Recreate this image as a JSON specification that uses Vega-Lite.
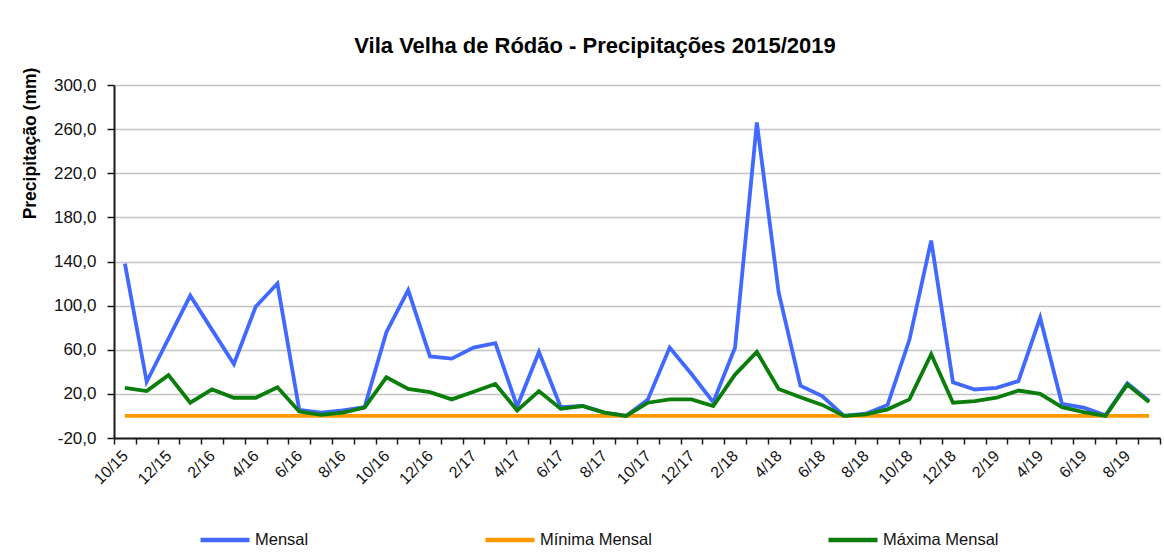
{
  "$schema": "https://vega.github.io/schema/vega-lite/v6.json",
  "autosize": "none",
  "width": 1046,
  "height": 353,
  "padding": {"left": 114, "top": 85, "right": 4, "bottom": 114},
  "background": "white",
  "config": {
    "view": {"stroke": null},
    "font": "Liberation Sans"
  },
  "title": {
    "text": "Vila Velha de Ródão - Precipitações 2015/2019",
    "font": "Liberation Sans",
    "fontSize": 22,
    "fontWeight": "bold",
    "color": "#000000",
    "anchor": "middle",
    "dx": -42,
    "offset": 9
  },
  "data": {
    "values": [
      {"mes": "10/15", "Mensal": 138, "Mínima Mensal": 0, "Máxima Mensal": 25.5},
      {"mes": "11/15", "Mensal": 31, "Mínima Mensal": 0, "Máxima Mensal": 22.5},
      {"mes": "12/15", "Mensal": 70, "Mínima Mensal": 0, "Máxima Mensal": 37},
      {"mes": "1/16", "Mensal": 109, "Mínima Mensal": 0, "Máxima Mensal": 12},
      {"mes": "2/16", "Mensal": 78, "Mínima Mensal": 0, "Máxima Mensal": 24},
      {"mes": "3/16", "Mensal": 47, "Mínima Mensal": 0, "Máxima Mensal": 16.5},
      {"mes": "4/16", "Mensal": 99, "Mínima Mensal": 0, "Máxima Mensal": 16.5},
      {"mes": "5/16", "Mensal": 120, "Mínima Mensal": 0, "Máxima Mensal": 26},
      {"mes": "6/16", "Mensal": 5.5, "Mínima Mensal": 0, "Máxima Mensal": 4},
      {"mes": "7/16", "Mensal": 3, "Mínima Mensal": 0, "Máxima Mensal": 1},
      {"mes": "8/16", "Mensal": 5, "Mínima Mensal": 0, "Máxima Mensal": 3},
      {"mes": "9/16", "Mensal": 8, "Mínima Mensal": 0, "Máxima Mensal": 7.5},
      {"mes": "10/16", "Mensal": 76, "Mínima Mensal": 0, "Máxima Mensal": 35},
      {"mes": "11/16", "Mensal": 114, "Mínima Mensal": 0, "Máxima Mensal": 24.5},
      {"mes": "12/16", "Mensal": 54, "Mínima Mensal": 0, "Máxima Mensal": 21.5},
      {"mes": "1/17", "Mensal": 52, "Mínima Mensal": 0, "Máxima Mensal": 15},
      {"mes": "2/17", "Mensal": 62, "Mínima Mensal": 0, "Máxima Mensal": 22},
      {"mes": "3/17", "Mensal": 66, "Mínima Mensal": 0, "Máxima Mensal": 29},
      {"mes": "4/17", "Mensal": 8.5, "Mínima Mensal": 0, "Máxima Mensal": 5},
      {"mes": "5/17", "Mensal": 58, "Mínima Mensal": 0, "Máxima Mensal": 22.5},
      {"mes": "6/17", "Mensal": 8, "Mínima Mensal": 0, "Máxima Mensal": 6.5},
      {"mes": "7/17", "Mensal": 9, "Mínima Mensal": 0, "Máxima Mensal": 9},
      {"mes": "8/17", "Mensal": 3, "Mínima Mensal": 0, "Máxima Mensal": 3},
      {"mes": "9/17", "Mensal": 0, "Mínima Mensal": 0, "Máxima Mensal": 0},
      {"mes": "10/17", "Mensal": 15, "Mínima Mensal": 0, "Máxima Mensal": 12},
      {"mes": "11/17", "Mensal": 62, "Mínima Mensal": 0, "Máxima Mensal": 15},
      {"mes": "12/17", "Mensal": 38, "Mínima Mensal": 0, "Máxima Mensal": 15},
      {"mes": "1/18", "Mensal": 12.5, "Mínima Mensal": 0, "Máxima Mensal": 9},
      {"mes": "2/18", "Mensal": 62, "Mínima Mensal": 0, "Máxima Mensal": 37.5},
      {"mes": "3/18", "Mensal": 266, "Mínima Mensal": 0, "Máxima Mensal": 58},
      {"mes": "4/18", "Mensal": 112, "Mínima Mensal": 0, "Máxima Mensal": 24.5},
      {"mes": "5/18", "Mensal": 27.5, "Mínima Mensal": 0, "Máxima Mensal": 17},
      {"mes": "6/18", "Mensal": 18, "Mínima Mensal": 0, "Máxima Mensal": 10},
      {"mes": "7/18", "Mensal": 0, "Mínima Mensal": 0, "Máxima Mensal": 0},
      {"mes": "8/18", "Mensal": 2, "Mínima Mensal": 0, "Máxima Mensal": 1.5},
      {"mes": "9/18", "Mensal": 10, "Mínima Mensal": 0, "Máxima Mensal": 6},
      {"mes": "10/18", "Mensal": 69, "Mínima Mensal": 0, "Máxima Mensal": 15},
      {"mes": "11/18", "Mensal": 159, "Mínima Mensal": 0, "Máxima Mensal": 56},
      {"mes": "12/18", "Mensal": 30.5, "Mínima Mensal": 0, "Máxima Mensal": 12},
      {"mes": "1/19", "Mensal": 24, "Mínima Mensal": 0, "Máxima Mensal": 13.5},
      {"mes": "2/19", "Mensal": 25.5, "Mínima Mensal": 0, "Máxima Mensal": 16.5},
      {"mes": "3/19", "Mensal": 31.5, "Mínima Mensal": 0, "Máxima Mensal": 23},
      {"mes": "4/19", "Mensal": 89, "Mínima Mensal": 0, "Máxima Mensal": 20},
      {"mes": "5/19", "Mensal": 11, "Mínima Mensal": 0, "Máxima Mensal": 8},
      {"mes": "6/19", "Mensal": 7.5, "Mínima Mensal": 0, "Máxima Mensal": 3.5},
      {"mes": "7/19", "Mensal": 0.5, "Mínima Mensal": 0, "Máxima Mensal": 0},
      {"mes": "8/19", "Mensal": 29.5, "Mínima Mensal": 0, "Máxima Mensal": 28.5},
      {"mes": "9/19", "Mensal": 13.5, "Mínima Mensal": 0, "Máxima Mensal": 12.5}
    ]
  },
  "transform": [
    {"fold": ["Mensal", "Mínima Mensal", "Máxima Mensal"], "as": ["serie", "valor"]}
  ],
  "mark": {"type": "line", "strokeWidth": 3.8, "strokeJoin": "miter", "strokeMiterLimit": 4},
  "encoding": {
    "x": {
      "field": "mes",
      "type": "ordinal",
      "sort": null,
      "bandPosition": 0.5,
      "scale": {"type": "band", "paddingInner": 0, "paddingOuter": 0},
      "axis": {
        "title": null,
        "tickBand": "extent",
        "labelExpr": "parseInt(datum.value) % 2 == 0 ? datum.value : ''",
        "labelAngle": -45,
        "labelAlign": "right",
        "labelBaseline": "middle",
        "labelFont": "Liberation Sans",
        "labelFontSize": 16,
        "labelColor": "#111111",
        "labelPadding": 9,
        "labelOverlap": false,
        "labelBound": false,
        "domainColor": "#1a1a1a",
        "domainWidth": 2,
        "tickColor": "#1a1a1a",
        "tickWidth": 1.5,
        "tickSize": 6,
        "grid": false
      }
    },
    "y": {
      "field": "valor",
      "type": "quantitative",
      "scale": {"domain": [-20, 300], "nice": false, "zero": false},
      "axis": {
        "title": "Precipitação (mm)",
        "titleFont": "Liberation Sans",
        "titleFontSize": 17.5,
        "titleFontWeight": "bold",
        "titleColor": "#000000",
        "titleX": -84,
        "titleY": 58,
        "titleAngle": -90,
        "titleAlign": "center",
        "titleBaseline": "middle",
        "values": [-20, 20, 60, 100, 140, 180, 220, 260, 300],
        "labelExpr": "replace(replace(format(datum.value, '.1f'), '.', ','), '\u2212', '-')",
        "labelFont": "Liberation Sans",
        "labelFontSize": 17,
        "labelColor": "#111111",
        "labelPadding": 11,
        "domainColor": "#1a1a1a",
        "domainWidth": 2,
        "tickColor": "#1a1a1a",
        "tickWidth": 1.5,
        "tickSize": 7,
        "grid": true,
        "gridColor": "#c4c4c4",
        "gridWidth": 1.5
      }
    },
    "color": {
      "field": "serie",
      "type": "nominal",
      "sort": ["Mensal", "Mínima Mensal", "Máxima Mensal"],
      "scale": {
        "domain": ["Mensal", "Mínima Mensal", "Máxima Mensal"],
        "range": ["#4169ff", "#ff9900", "#0a7d0a"]
      },
      "legend": {
        "title": null,
        "orient": "none",
        "direction": "horizontal",
        "legendX": 84,
        "legendY": 428,
        "symbolType": "stroke",
        "symbolSize": 2401,
        "symbolStrokeWidth": 4.5,
        "labelFont": "Liberation Sans",
        "labelFontSize": 16.5,
        "labelColor": "#111111",
        "labelOffset": 3,
        "columnPadding": 167
      }
    }
  }
}
